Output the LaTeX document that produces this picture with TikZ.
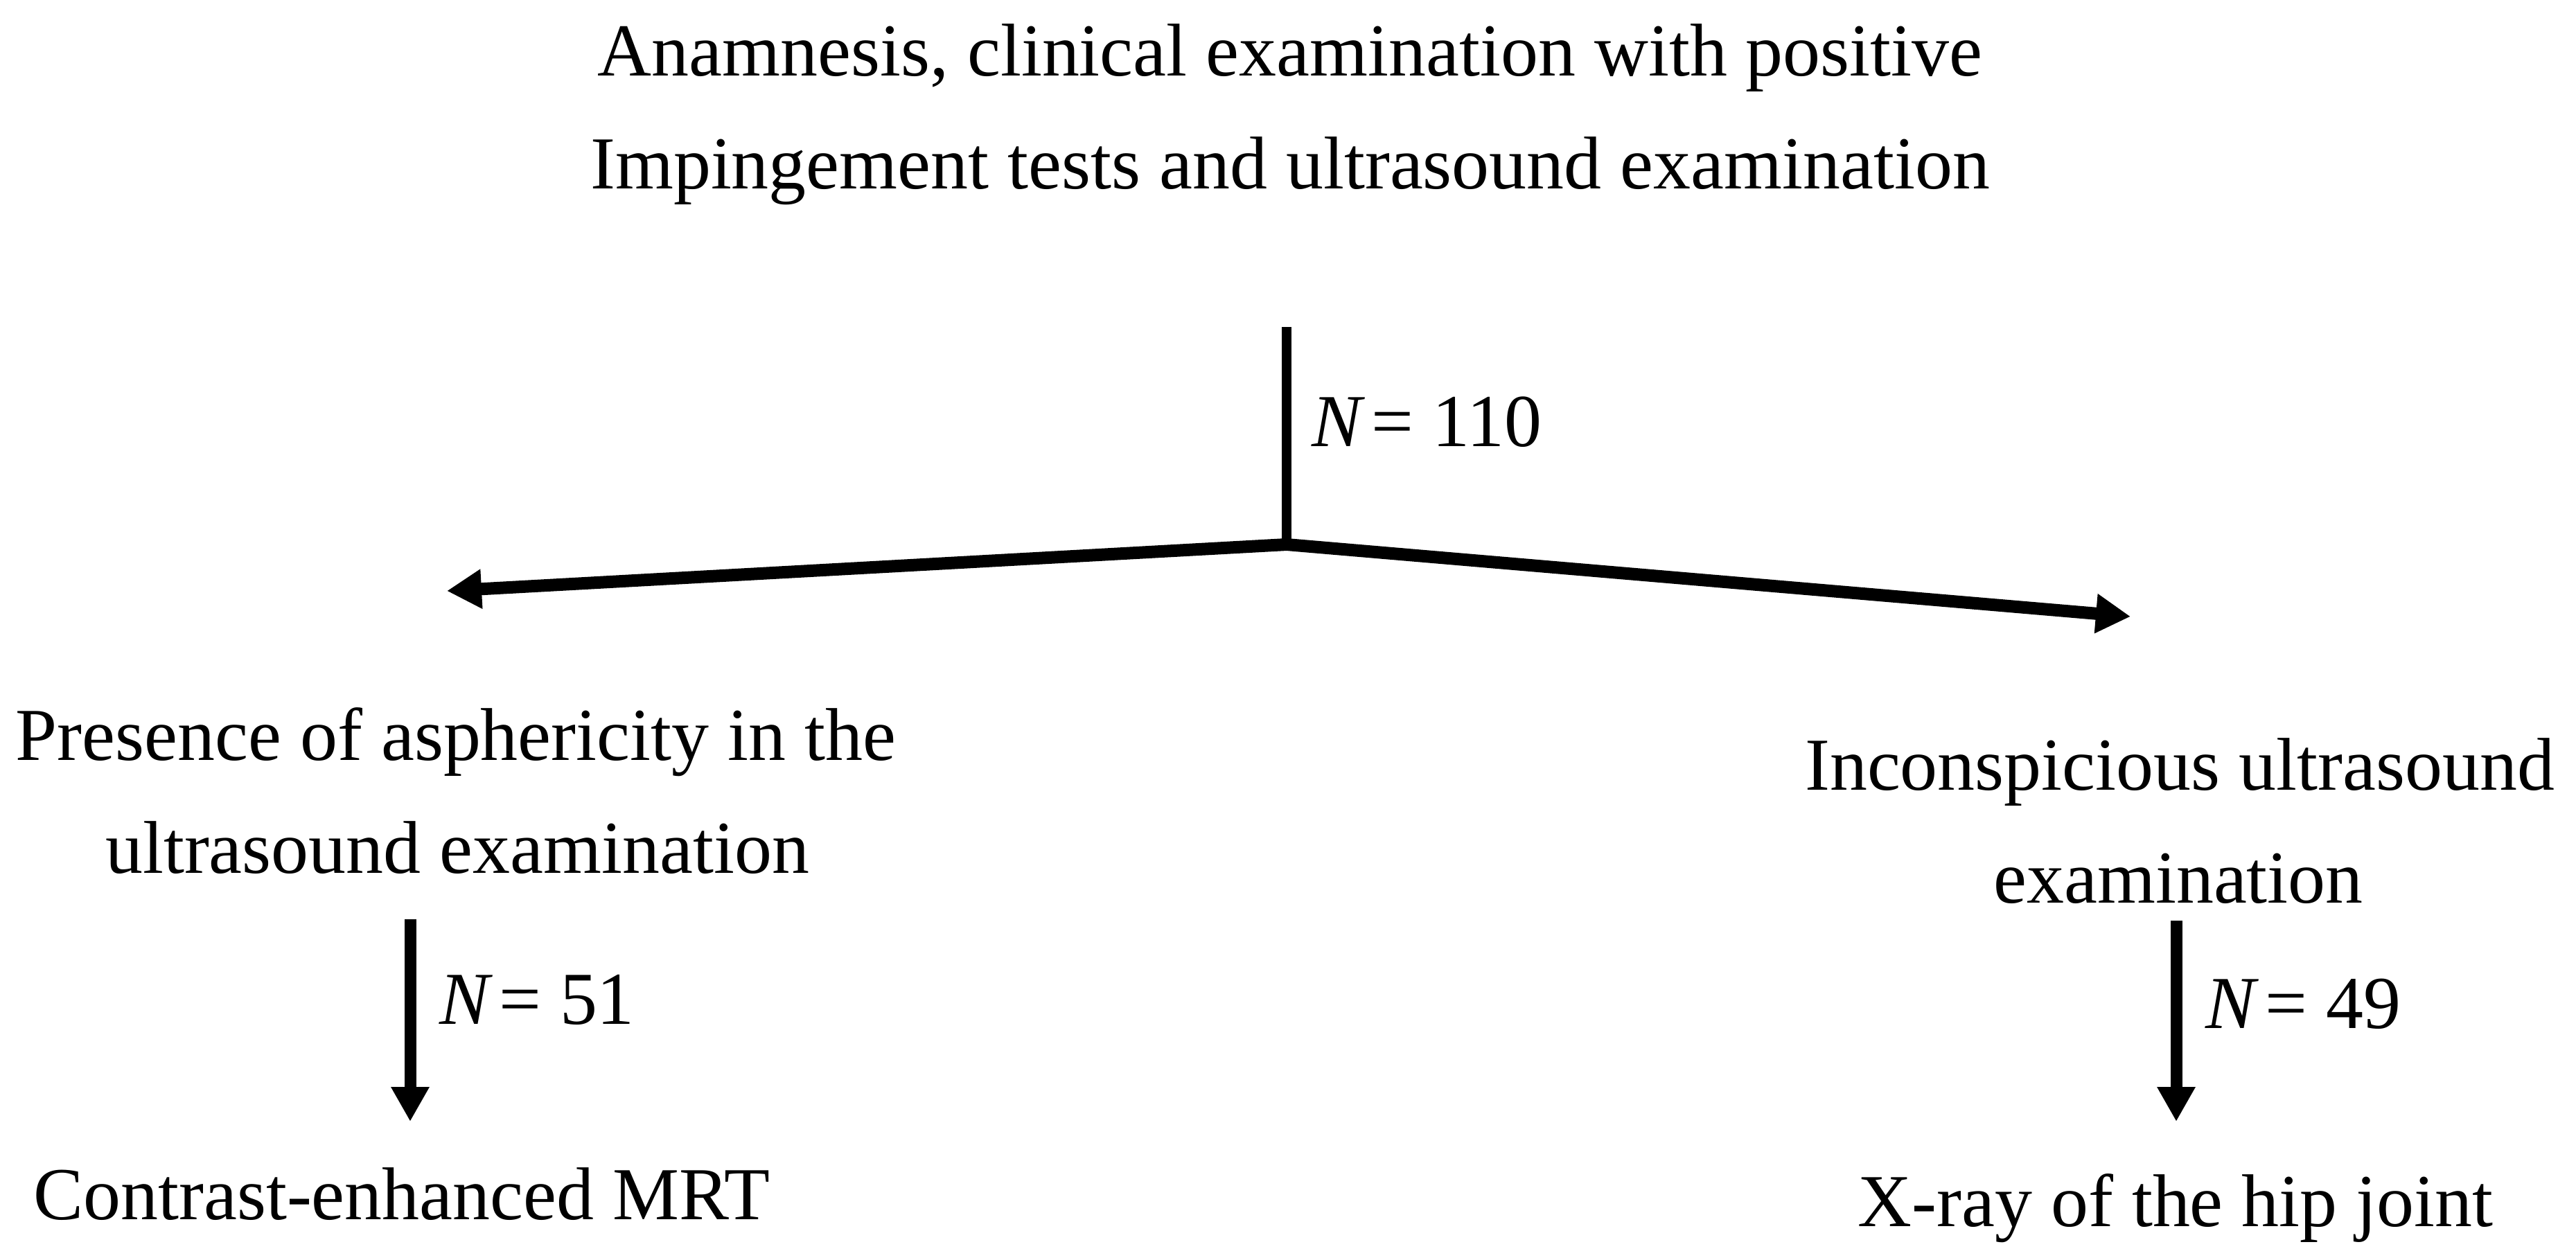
\documentclass[tikz,border=0pt]{standalone}
\usepackage{fontspec}
\setmainfont{Liberation Serif}
\usetikzlibrary{arrows.meta}
\newcommand\diafont{\fontsize{30.7}{37}\selectfont}
\newcommand\nval[1]{\textit{N}\kern0.08em=\kern0.25em#1}
\tikzset{
  lbl/.style={anchor=base, inner sep=0pt, font=\diafont},
  nlbl/.style={anchor=base west, inner sep=0pt, font=\diafont},
  stemline/.style={line width=0.145cm},
  arrowline/.style={line width=0.17cm, -{Triangle[length=0.5cm,width=0.52cm]}},
  twoway/.style={line width=0.18cm, line join=miter, {Triangle[length=0.5cm,width=0.54cm]}-{Triangle[length=0.5cm,width=0.54cm]}}
}
\begin{document}
\begin{tikzpicture}
\useasboundingbox (0,0) rectangle (37.18,-18.16);
% top block
\node[lbl] (title1) at (18.62,-1.10) {Anamnesis, clinical examination with positive};
\node[lbl] (title2) at (18.62,-2.73) {Impingement tests and ultrasound examination};
% branching
\coordinate (vtop) at (18.57,-4.72);
\coordinate (vbot) at (18.57,-7.85);
\coordinate (junc) at (18.57,-7.86);
\coordinate (ltip) at (6.45,-8.53);
\coordinate (rtip) at (30.75,-8.90);
\draw[stemline] (vtop) -- (vbot);
\draw[twoway] (ltip) -- (junc) -- (rtip);
\node[nlbl] (n110) at (18.93,-6.44) {\nval{110}};
% left branch
\node[lbl] (left1) at (6.58,-10.97) {Presence of asphericity in the};
\node[lbl] (left2) at (6.60,-12.60) {ultrasound examination};
\coordinate (ldtop) at (5.92,-13.27);
\coordinate (ldtip) at (5.92,-16.19);
\draw[arrowline] (ldtop) -- (ldtip);
\node[nlbl] (n51) at (6.34,-14.78) {\nval{51}};
\node[lbl] (left3) at (5.80,-17.60) {Contrast-enhanced MRT};
% right branch
\node[lbl] (right1) at (31.46,-11.40) {Inconspicious ultrasound};
\node[lbl] (right2) at (31.44,-13.03) {examination};
\coordinate (rdtop) at (31.41,-13.29);
\coordinate (rdtip) at (31.41,-16.19);
\draw[arrowline] (rdtop) -- (rdtip);
\node[nlbl] (n49) at (31.83,-14.84) {\nval{49}};
\node[lbl] (right3) at (31.40,-17.70) {X-ray of the hip joint};
\end{tikzpicture}
\end{document}
